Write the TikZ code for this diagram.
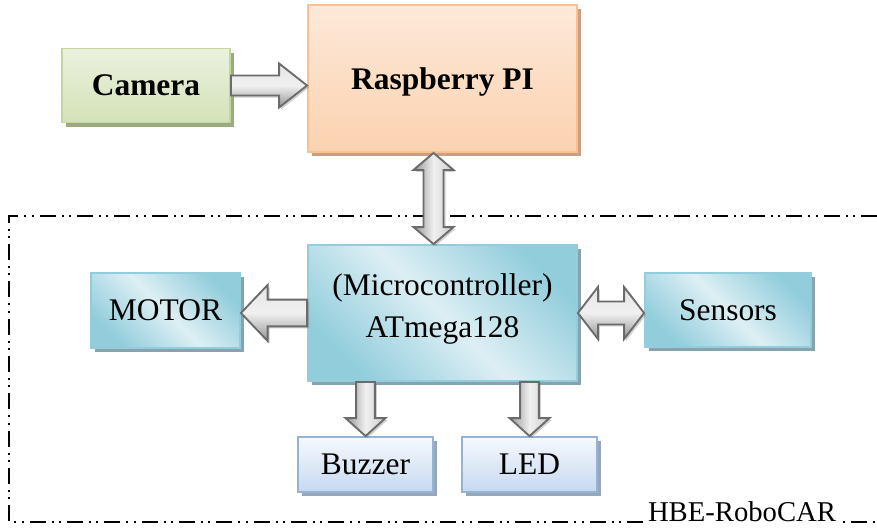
\documentclass[tikz,border=0pt]{standalone}
\usepackage{fontspec}
\setmainfont{Liberation Serif}
\usepackage{xcolor}
\usepackage{tikz}
\usetikzlibrary{calc,shadows}

\definecolor{camfill}{HTML}{EBF1DE}
\definecolor{camfillB}{HTML}{D4E2B8}
\definecolor{camline}{HTML}{C3D69B}
\definecolor{camshadow}{HTML}{9CAA80}
\definecolor{rpifill}{HTML}{FDE9D9}
\definecolor{rpifillB}{HTML}{FBD2B0}
\definecolor{rpiline}{HTML}{FAC090}
\definecolor{rpishadow}{HTML}{C9A085}
\definecolor{cyanD}{HTML}{92CDDC}
\definecolor{cyanL}{HTML}{DDEFF4}
\definecolor{cyanline}{HTML}{93CDDD}
\definecolor{cyanshadow}{HTML}{88A3AB}
\definecolor{bluefill}{HTML}{F6F9FC}
\definecolor{bluefillB}{HTML}{C6D9F1}
\definecolor{blueline}{HTML}{95B3D7}
\definecolor{blueshadow}{HTML}{97A6B8}
\definecolor{arrline}{HTML}{6B6B6B}

\tikzset{
  box/.style={rectangle, line width=1.4pt, align=center,
    font=\fontsize{23.6}{32}\selectfont},
  greenbox/.style={box, draw=camline, top color=camfill, bottom color=camfillB,
    drop shadow={shadow xshift=3pt, shadow yshift=-3pt, fill=camshadow, opacity=1}},
  orangebox/.style={box, draw=rpiline, top color=rpifill, bottom color=rpifillB,
    drop shadow={shadow xshift=3pt, shadow yshift=-3pt, fill=rpishadow, opacity=1}},
  cyanbox/.style={box, draw=cyanline, left color=cyanD, right color=cyanD,
    middle color=cyanL, shading angle=135,
    drop shadow={shadow xshift=3pt, shadow yshift=-3pt, fill=cyanshadow, opacity=1}},
  bluebox/.style={box, draw=blueline, top color=bluefill, bottom color=bluefillB,
    drop shadow={shadow xshift=3pt, shadow yshift=-3pt, fill=blueshadow, opacity=1}},
  arrbody/.style={draw=arrline, line width=1.4pt, line join=miter,
    drop shadow={shadow xshift=1.5pt, shadow yshift=-1.5pt, fill=black!60, opacity=.3}},
  harrow/.style={arrbody, top color=black!10, bottom color=black!42, middle color=black!6},
  varrow/.style={arrbody, left color=black!42, right color=black!20, middle color=black!6},
  frame/.style={line width=1.1pt,
    dash pattern=on 12pt off 4.5pt on 1.5pt off 4pt on 1.5pt off 4.5pt}
}

% style, tail, tip, shaft half width, head half width, head length
\newcommand{\blockarrow}[6]{%
  \path (#3) coordinate (ba-t) ($(#3)!#6!(#2)$) coordinate (ba-h);
  \draw[#1] ($(#2)!#4!90:(ba-t)$) -- ($(ba-h)!#4!90:(ba-t)$)
    -- ($(ba-h)!#5!90:(ba-t)$) -- (ba-t) -- ($(ba-h)!#5!-90:(ba-t)$)
    -- ($(ba-h)!#4!-90:(ba-t)$) -- ($(#2)!#4!-90:(ba-t)$) -- cycle;
}
% style, end one, end two, shaft half width, head half width, head length
\newcommand{\dblarrow}[6]{%
  \path (#2) coordinate (da-a) ($(#2)!#6!(#3)$) coordinate (da-ha)
        (#3) coordinate (da-b) ($(#3)!#6!(#2)$) coordinate (da-hb);
  \draw[#1] (da-a) -- ($(da-ha)!#5!-90:(da-a)$) -- ($(da-ha)!#4!-90:(da-a)$)
    -- ($(da-hb)!#4!90:(da-b)$) -- ($(da-hb)!#5!90:(da-b)$) -- (da-b)
    -- ($(da-hb)!#5!-90:(da-b)$) -- ($(da-hb)!#4!-90:(da-b)$)
    -- ($(da-ha)!#4!90:(da-a)$) -- ($(da-ha)!#5!90:(da-a)$) -- cycle;
}

\begin{document}
\begin{tikzpicture}[x=0.75pt, y=-0.75pt]
  \useasboundingbox (0,0) rectangle (877,529);

  \draw[frame] (877,216) -- (9,216) -- (9,522) -- (877,522);
  \node[fill=white, inner sep=3pt, font=\fontsize{21.5}{24}\selectfont] (tag) at (742,512) {HBE-RoboCAR};

  \node[greenbox, minimum width=126pt, minimum height=55.5pt] (cam) at (146,85.5) {\textbf{Camera}};
  \node[orangebox, minimum width=201.75pt, minimum height=110.25pt, text height=22pt] (rpi) at (442.5,78.5) {\textbf{Raspberry PI}};
  \node[cyanbox, minimum width=201.75pt, minimum height=102pt, text depth=11pt] (micro) at (442.5,313) {(Microcontroller)\\ATmega128};
  \node[cyanbox, minimum width=111.75pt, minimum height=56.25pt] (motor) at (165.5,310.5) {MOTOR};
  \node[cyanbox, minimum width=124.5pt, minimum height=55.5pt] (sensors) at (728,310) {Sensors};
  \node[bluebox, minimum width=101.25pt, minimum height=41.25pt] (buzzer) at (365.5,464.5) {Buzzer};
  \node[bluebox, minimum width=101.25pt, minimum height=41.25pt] (led) at (529.5,464.5) {LED};

  \coordinate (rpi-in) at (rpi.west |- cam.east);
  \coordinate (link-top) at ($(rpi.south)+(-9,0)$);
  \coordinate (link-bot) at ($(micro.north)+(-9,0)$);
  \coordinate (motor-in) at (motor.east |- micro.west);
  \coordinate (sensors-in) at (sensors.west |- micro.east);
  \coordinate (buzzer-out) at (buzzer.north |- micro.south);
  \coordinate (led-out) at (led.north |- micro.south);

  \blockarrow{harrow}{cam.east}{rpi-in}{7.5pt}{16.5pt}{21pt}
  \dblarrow{varrow}{link-top}{link-bot}{7.5pt}{15pt}{12.75pt}
  \blockarrow{harrow}{micro.west}{motor-in}{10pt}{21pt}{20pt}
  \dblarrow{harrow}{micro.east}{sensors-in}{8.6pt}{19.5pt}{15pt}
  \blockarrow{varrow}{buzzer-out}{buzzer.north}{7pt}{15pt}{13.5pt}
  \blockarrow{varrow}{led-out}{led.north}{7pt}{15pt}{13.5pt}
\end{tikzpicture}
\end{document}
